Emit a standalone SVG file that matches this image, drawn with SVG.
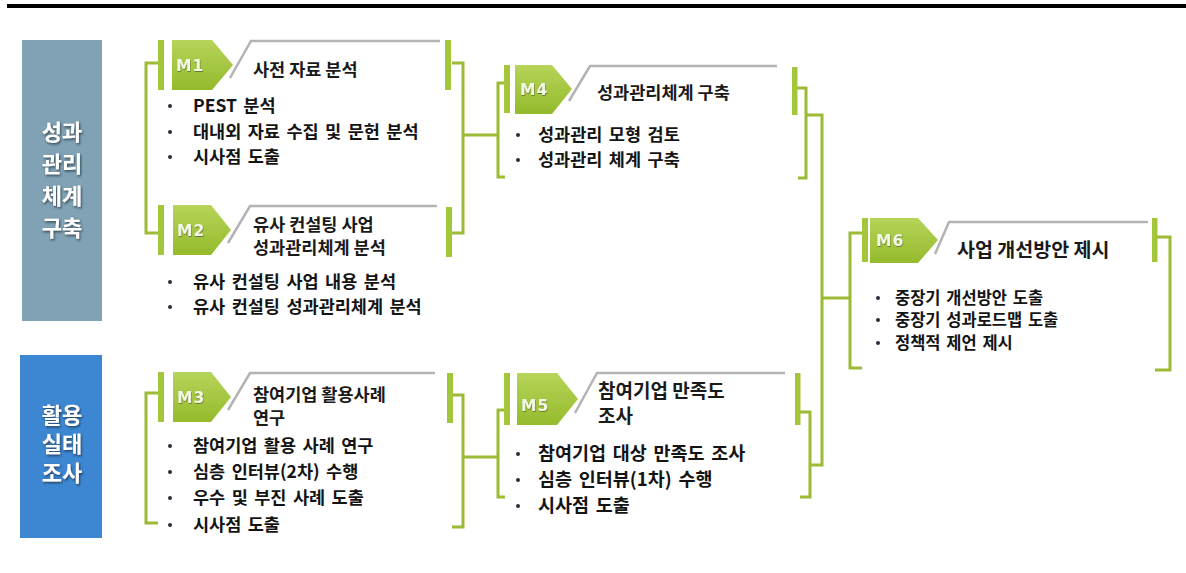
<svg xmlns="http://www.w3.org/2000/svg" width="1186" height="573" viewBox="0 0 1186 573">
<defs>
<linearGradient id="pg" x1="0" y1="0" x2="0" y2="1">
<stop offset="0" stop-color="#b6d45a"/>
<stop offset="1" stop-color="#95ba2c"/>
</linearGradient>
<filter id="sh" x="-20%" y="-20%" width="140%" height="140%">
<feDropShadow dx="1" dy="1.5" stdDeviation="1" flood-color="#1e2a33" flood-opacity="0.75"/>
</filter>
<filter id="msh" x="-20%" y="-20%" width="140%" height="140%">
<feDropShadow dx="0.5" dy="1" stdDeviation="0.6" flood-color="#4a5a20" flood-opacity="0.7"/>
</filter>
</defs>
<style>
.ln{stroke:#9bbb35;stroke-width:3;fill:none}
.bar{fill:#a3c63b}
.pent{fill:url(#pg)}
.gl{stroke:#b3b3b3;stroke-width:2.5;fill:none}
.ml{font-family:"DejaVu Sans",sans-serif;font-weight:bold;font-size:15.5px;fill:#f2f7e2;letter-spacing:1px;filter:url(#msh)}
.tt{font-family:"Noto Sans CJK KR","Noto Sans",sans-serif;font-weight:bold;font-size:17.5px;fill:#1a1a1a}
.bt{font-family:"Noto Sans CJK KR","Noto Sans",sans-serif;font-weight:bold;font-size:17.5px;fill:#141414;word-spacing:2.5px}
.dot{fill:#2a2a3a}
.side{font-family:"Noto Sans CJK KR","Noto Sans",sans-serif;font-weight:bold;font-size:22px;fill:#ffffff;text-anchor:middle;filter:url(#sh)}
</style>
<rect x="7" y="4" width="1179" height="4" fill="#000"/>

<g id="side1">
<rect x="22" y="40" width="80" height="281" fill="#80a2b4"/>
<text class="side" x="62" y="140">성과</text>
<text class="side" x="62" y="172">관리</text>
<text class="side" x="62" y="204">체계</text>
<text class="side" x="62" y="236">구축</text>
</g>
<g id="side2">
<rect x="20" y="355" width="82" height="183" fill="#3d87d2"/>
<text class="side" x="62" y="423">활용</text>
<text class="side" x="62" y="452">실태</text>
<text class="side" x="62" y="481">조사</text>
</g>

<g id="connectors">
<path class="ln" d="M158,63 H146 V233 H158"/>
<path class="ln" d="M452,63 H463 V233 H452"/>
<path class="ln" d="M463,135 H498"/>
<path class="ln" d="M505,83 H498 V177 H505"/>
<path class="ln" d="M797,88 H806 V178 H798"/>
<path class="ln" d="M806,115 H822 V465 H810"/>
<path class="ln" d="M158,393 H146 V523 H158"/>
<path class="ln" d="M452,395 H463 V527 H452"/>
<path class="ln" d="M463,457 H498"/>
<path class="ln" d="M505,410 H498 V497 H505"/>
<path class="ln" d="M800,412 H810 V497 H800"/>
<path class="ln" d="M862,233 H850 V368 H862"/>
<path class="ln" d="M822,298 H850"/>
<path class="ln" d="M1157,237 H1170 V370 H1155"/>
</g>

<g id="m1">
<rect class="bar" x="158" y="40" width="6" height="50"/>
<rect class="bar" x="445" y="40" width="6" height="50"/>
<polygon class="pent" points="172,40 212,40 233,65 212,90 172,90"/>
<polyline class="gl" points="230,78 251,41 440,41"/>
<text class="ml" x="176" y="71">M1</text>
<text class="tt" x="253" y="76">사전 자료 분석</text>
<circle class="dot" cx="170" cy="106" r="2"/>
<circle class="dot" cx="170" cy="132" r="2"/>
<circle class="dot" cx="170" cy="157" r="2"/>
<text class="bt" x="193" y="112">PEST 분석</text>
<text class="bt" x="193" y="138">대내외 자료 수집 및 문헌 분석</text>
<text class="bt" x="193" y="163">시사점 도출</text>
</g>

<g id="m2">
<rect class="bar" x="158" y="205" width="6" height="50"/>
<rect class="bar" x="446" y="207" width="6" height="50"/>
<polygon class="pent" points="173,205 211,205 231,230 211,255 173,255"/>
<polyline class="gl" points="228,243 250,206 437,206"/>
<text class="ml" x="177" y="236">M2</text>
<text class="tt" x="253" y="231">유사 컨설팅 사업</text>
<text class="tt" x="253" y="254">성과관리체계 분석</text>
<circle class="dot" cx="170" cy="282" r="2"/>
<circle class="dot" cx="170" cy="307" r="2"/>
<text class="bt" x="193" y="288">유사 컨설팅 사업 내용 분석</text>
<text class="bt" x="193" y="313">유사 컨설팅 성과관리체계 분석</text>
</g>

<g id="m3">
<rect class="bar" x="158" y="372" width="6" height="50"/>
<rect class="bar" x="447" y="373" width="6" height="50"/>
<polygon class="pent" points="173,372 211,372 231,397 211,422 173,422"/>
<polyline class="gl" points="228,410 250,373 435,373"/>
<text class="ml" x="177" y="403">M3</text>
<text class="tt" x="253" y="401">참여기업 활용사례</text>
<text class="tt" x="253" y="424">연구</text>
<circle class="dot" cx="170" cy="446" r="2"/>
<circle class="dot" cx="170" cy="472" r="2"/>
<circle class="dot" cx="170" cy="498" r="2"/>
<circle class="dot" cx="170" cy="525" r="2"/>
<text class="bt" x="193" y="452">참여기업 활용 사례 연구</text>
<text class="bt" x="193" y="478">심층 인터뷰(2차) 수행</text>
<text class="bt" x="193" y="504">우수 및 부진 사례 도출</text>
<text class="bt" x="193" y="531">시사점 도출</text>
</g>

<g id="m4">
<rect class="bar" x="504" y="65" width="6" height="48"/>
<rect class="bar" x="792" y="67" width="5.5" height="48"/>
<polygon class="pent" points="515,65 552,65 572,89 552,114 515,114"/>
<polyline class="gl" points="569,101 590,66 777,66"/>
<text class="ml" x="520" y="95">M4</text>
<text class="tt" x="597" y="99">성과관리체계 구축</text>
<circle class="dot" cx="518" cy="135" r="2"/>
<circle class="dot" cx="518" cy="160" r="2"/>
<text class="bt" x="538" y="141">성과관리 모형 검토</text>
<text class="bt" x="538" y="166">성과관리 체계 구축</text>
</g>

<g id="m5">
<rect class="bar" x="504" y="373" width="6" height="52"/>
<rect class="bar" x="795" y="373" width="5.5" height="52"/>
<polygon class="pent" points="517,373 557,373 578,399 557,425 517,425"/>
<polyline class="gl" points="575,413 597,373 785,373"/>
<text class="ml" x="521" y="411">M5</text>
<text class="tt" x="598" y="398" style="font-size:19px">참여기업 만족도</text>
<text class="tt" x="598" y="423" style="font-size:19px">조사</text>
<circle class="dot" cx="518" cy="454" r="2"/>
<circle class="dot" cx="518" cy="480" r="2"/>
<circle class="dot" cx="518" cy="506" r="2"/>
<text class="bt" x="538" y="460" style="font-size:18.5px">참여기업 대상 만족도 조사</text>
<text class="bt" x="538" y="486" style="font-size:18.5px">심층 인터뷰(1차) 수행</text>
<text class="bt" x="538" y="512" style="font-size:18.5px">시사점 도출</text>
</g>

<g id="m6">
<rect class="bar" x="862" y="218" width="6" height="44"/>
<rect class="bar" x="1152" y="218" width="5.5" height="44"/>
<polygon class="pent" points="870,218 918,218 938,240 918,263 870,263"/>
<polyline class="gl" points="935,254 949,222 1148,222"/>
<text class="ml" x="876" y="246">M6</text>
<text class="tt" x="957" y="257" style="font-size:19.5px">사업 개선방안 제시</text>
<circle class="dot" cx="878" cy="298" r="2"/>
<circle class="dot" cx="878" cy="320" r="2"/>
<circle class="dot" cx="878" cy="343" r="2"/>
<text class="bt" x="895" y="304" style="font-size:16.5px;word-spacing:2px">중장기 개선방안 도출</text>
<text class="bt" x="895" y="326" style="font-size:16.5px;word-spacing:2px">중장기 성과로드맵 도출</text>
<text class="bt" x="895" y="349" style="font-size:16.5px;word-spacing:2px">정책적 제언 제시</text>
</g>
</svg>
